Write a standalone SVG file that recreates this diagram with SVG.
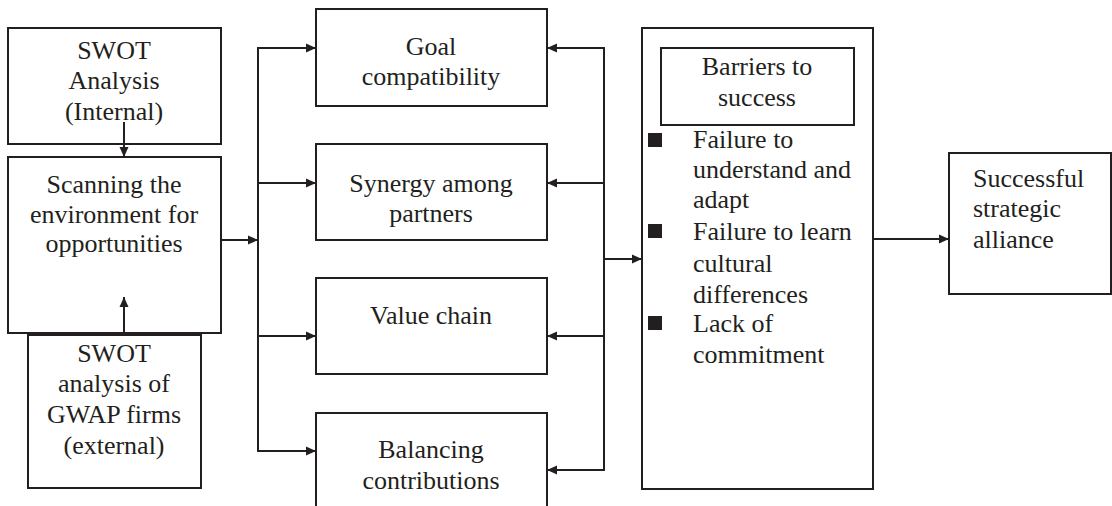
<svg xmlns="http://www.w3.org/2000/svg" width="1112" height="506" viewBox="0 0 1112 506">
<style>
.box{fill:#fff;stroke:#231f20;stroke-width:2}
.ln{fill:none;stroke:#231f20;stroke-width:2}
.t{font-family:'Liberation Serif','Times New Roman',serif;font-size:26px;fill:#231f20}
.c{text-anchor:middle}
.b{fill:#231f20}
</style>
<defs>
<marker id="ah" markerUnits="userSpaceOnUse" markerWidth="12" markerHeight="10" refX="10" refY="5" orient="auto">
<path d="M0,0.5 L10,5 L0,9.5 Z" fill="#231f20"/>
</marker>
</defs>
<rect width="1112" height="506" fill="#fff"/>
<g class="t">
<g id="swot-internal">
<rect class="box" x="8" y="28" width="213" height="116"/>
<text class="c" x="114" y="59">SWOT</text>
<text class="c" x="114" y="89">Analysis</text>
<text class="c" x="114" y="120">(Internal)</text>
</g>
<g id="scanning">
<rect class="box" x="8" y="157" width="213" height="176"/>
<text class="c" x="114" y="193">Scanning the</text>
<text class="c" x="114" y="223">environment for</text>
<text class="c" x="114" y="252">opportunities</text>
</g>
<g id="swot-external">
<rect class="box" x="28" y="335" width="173" height="153"/>
<text class="c" x="114" y="362">SWOT</text>
<text class="c" x="114" y="392">analysis of</text>
<text class="c" x="114" y="423">GWAP firms</text>
<text class="c" x="114" y="454">(external)</text>
</g>
<g id="goal">
<rect class="box" x="316" y="9" width="231" height="97"/>
<text class="c" x="431" y="55">Goal</text>
<text class="c" x="431" y="85">compatibility</text>
</g>
<g id="synergy">
<rect class="box" x="316" y="144" width="231" height="96"/>
<text class="c" x="431" y="192">Synergy among</text>
<text class="c" x="431" y="222">partners</text>
</g>
<g id="value-chain">
<rect class="box" x="316" y="278" width="231" height="96"/>
<text class="c" x="431" y="324">Value chain</text>
</g>
<g id="balancing">
<rect class="box" x="316" y="413" width="231" height="100"/>
<text class="c" x="431" y="458">Balancing</text>
<text class="c" x="431" y="489">contributions</text>
</g>
<g id="barriers">
<rect class="box" x="642" y="28" width="231" height="461"/>
<rect class="box" x="661" y="48" width="193" height="77"/>
<text class="c" x="757" y="75">Barriers to</text>
<text class="c" x="757" y="106">success</text>
<rect class="b" x="648" y="133" width="14" height="14"/>
<text x="693" y="148">Failure to</text>
<text x="693" y="178">understand and</text>
<text x="693" y="208">adapt</text>
<rect class="b" x="648" y="224" width="14" height="14"/>
<text x="693" y="240">Failure to learn</text>
<text x="693" y="272">cultural</text>
<text x="693" y="303">differences</text>
<rect class="b" x="648" y="316" width="14" height="14"/>
<text x="693" y="332">Lack of</text>
<text x="693" y="363">commitment</text>
</g>
<g id="success">
<rect class="box" x="949" y="153" width="162" height="141"/>
<text x="973" y="187">Successful</text>
<text x="973" y="217">strategic</text>
<text x="973" y="248">alliance</text>
</g>
</g>
<g id="connectors">
<line class="ln" x1="124" y1="122" x2="124" y2="157" marker-end="url(#ah)"/>
<line class="ln" x1="124" y1="335" x2="124" y2="297" marker-end="url(#ah)"/>
<line class="ln" x1="221" y1="240" x2="258" y2="240" marker-end="url(#ah)"/>
<line class="ln" x1="258" y1="47" x2="258" y2="452"/>
<line class="ln" x1="257" y1="48" x2="316" y2="48" marker-end="url(#ah)"/>
<line class="ln" x1="258" y1="183" x2="316" y2="183" marker-end="url(#ah)"/>
<line class="ln" x1="258" y1="336" x2="316" y2="336" marker-end="url(#ah)"/>
<line class="ln" x1="257" y1="451" x2="316" y2="451" marker-end="url(#ah)"/>
<line class="ln" x1="604" y1="47" x2="604" y2="471"/>
<line class="ln" x1="605" y1="48" x2="547" y2="48" marker-end="url(#ah)"/>
<line class="ln" x1="604" y1="183" x2="547" y2="183" marker-end="url(#ah)"/>
<line class="ln" x1="604" y1="336" x2="547" y2="336" marker-end="url(#ah)"/>
<line class="ln" x1="605" y1="470" x2="547" y2="470" marker-end="url(#ah)"/>
<line class="ln" x1="604" y1="259" x2="642" y2="259" marker-end="url(#ah)"/>
<line class="ln" x1="873" y1="239" x2="949" y2="239" marker-end="url(#ah)"/>
</g>
</svg>
